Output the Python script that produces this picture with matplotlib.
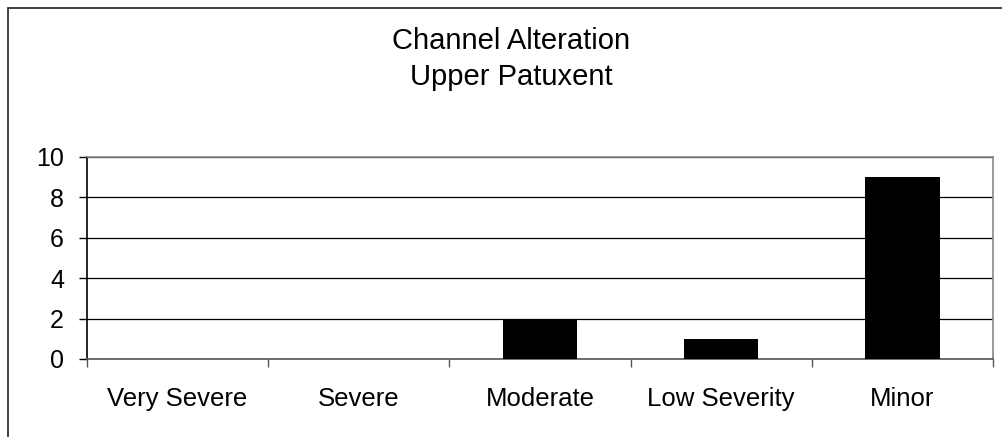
import matplotlib
matplotlib.use("Agg")
import matplotlib.pyplot as plt
from matplotlib.patches import Rectangle
import numpy as np

categories = ["Very Severe", "Severe", "Moderate", "Low Severity", "Minor"]
counts = [0, 0, 2, 1, 9]
y_ticks = [0, 2, 4, 6, 8, 10]

plt.rcParams['font.family'] = ['Liberation Sans', 'DejaVu Sans']

W, H = 1002, 437
fig = plt.figure(figsize=(W / 100, H / 100), dpi=100)
fig.patch.set_facecolor('white')

# outer chart border (runs off the right and bottom of the image)
fig.patches.append(Rectangle((8 / W, -0.2), 1.2, 1 - 8 / H + 0.2, transform=fig.transFigure,
                             fill=False, edgecolor='#333333', linewidth=1.3))

ax = fig.add_axes([87 / W, 1 - 359 / H, (993 - 87) / W, (359 - 157) / H])
x = np.arange(len(categories))
ax.bar(x, counts, width=0.41, color='black', zorder=3)

ax.set_xlim(-0.5, len(categories) - 0.5)
ax.set_ylim(0, 10)
ax.set_yticks(y_ticks)
ax.set_xticks(x)
ax.set_xticklabels(categories, fontsize=18.5)
ax.set_xticks(np.arange(-0.5, len(categories), 1), minor=True)
ax.tick_params(axis='x', which='major', length=0, pad=20)
ax.tick_params(axis='x', which='minor', length=5.5, width=1, color='#555555', direction='out')
ax.tick_params(axis='y', length=5.5, width=1, pad=11, labelsize=18, direction='out')

ax.yaxis.grid(True, color='black', linewidth=0.9, zorder=0)
ax.set_axisbelow(True)
ax.spines['left'].set_color('black')
ax.spines['bottom'].set_color('#555555')
ax.spines['top'].set_color('#888888')
ax.spines['right'].set_color('#888888')
for s in ax.spines.values():
    s.set_linewidth(1.2)

fig.text(511 / W, 1 - 49 / H, "Channel Alteration", ha='center', va='baseline', fontsize=21)
fig.text(511 / W, 1 - 85 / H, "Upper Patuxent", ha='center', va='baseline', fontsize=21)

fig.savefig("out.png", dpi=100)
